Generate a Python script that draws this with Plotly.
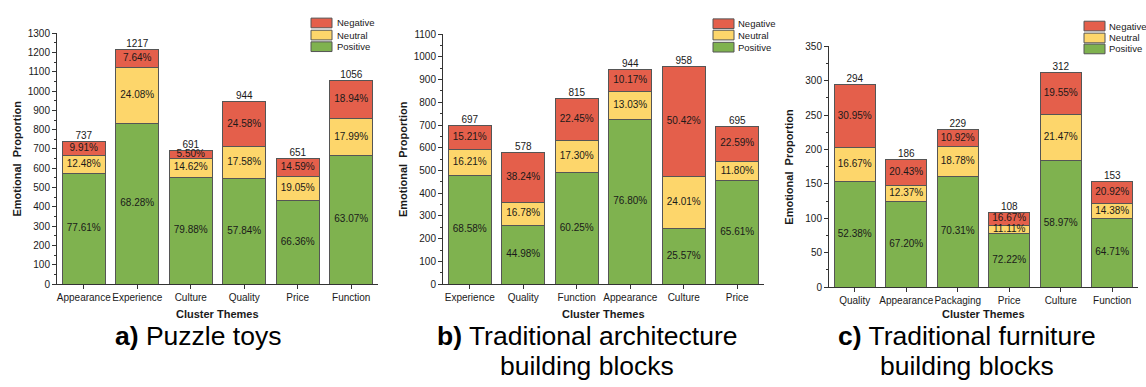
import plotly.graph_objects as go

# ---- data -------------------------------------------------------------
cats_a = ["Appearance", "Experience", "Culture", "Quality", "Price", "Function"]
pos_a = [572, 831, 552, 546, 432, 666]
neu_a = [92, 293, 101, 166, 124, 190]
neg_a = [73, 93, 38, 232, 95, 200]
tot_a = [737, 1217, 691, 944, 651, 1056]
pos_pct_a = ["77.61%", "68.28%", "79.88%", "57.84%", "66.36%", "63.07%"]
neu_pct_a = ["12.48%", "24.08%", "14.62%", "17.58%", "19.05%", "17.99%"]
neg_pct_a = ["9.91%", "7.64%", "5.50%", "24.58%", "14.59%", "18.94%"]

cats_b = ["Experience", "Quality", "Function", "Appearance", "Culture", "Price"]
pos_b = [478, 260, 491, 725, 245, 456]
neu_b = [113, 97, 141, 123, 230, 82]
neg_b = [106, 221, 183, 96, 483, 157]
tot_b = [697, 578, 815, 944, 958, 695]
pos_pct_b = ["68.58%", "44.98%", "60.25%", "76.80%", "25.57%", "65.61%"]
neu_pct_b = ["16.21%", "16.78%", "17.30%", "13.03%", "24.01%", "11.80%"]
neg_pct_b = ["15.21%", "38.24%", "22.45%", "10.17%", "50.42%", "22.59%"]

cats_c = ["Quality", "Appearance", "Packaging", "Price", "Culture", "Function"]
pos_c = [154, 125, 161, 78, 184, 99]
neu_c = [49, 23, 43, 12, 67, 22]
neg_c = [91, 38, 25, 18, 61, 32]
tot_c = [294, 186, 229, 108, 312, 153]
pos_pct_c = ["52.38%", "67.20%", "70.31%", "72.22%", "58.97%", "64.71%"]
neu_pct_c = ["16.67%", "12.37%", "18.78%", "11.11%", "21.47%", "14.38%"]
neg_pct_c = ["30.95%", "20.43%", "10.92%", "16.67%", "19.55%", "20.92%"]

captions = [("a)", "Puzzle toys", None),
            ("b)", "Traditional architecture", "building blocks"),
            ("c)", "Traditional furniture", "building blocks")]

# ---- style ------------------------------------------------------------
W, H = 1146, 387
FONT = "Liberation Sans, Arial, sans-serif"
RED, YEL, GRN = "#E45F4B", "#FDD66B", "#7FB24F"
EDGE = "#555555"
INK = "#1a1a1a"


def px(x):
    return x / W


def py(y):
    return 1 - y / H


panels = [
    dict(cats=cats_a, pos=pos_a, neu=neu_a, neg=neg_a, tot=tot_a,
         pp=pos_pct_a, np_=neu_pct_a, ng=neg_pct_a,
         xdom=(57, 378), y0=287, ytop=28, ymax=1300, dtick=100,
         legx=311, legy=[12.5, 25, 37], legtx=335),
    dict(cats=cats_b, pos=pos_b, neu=neu_b, neg=neg_b, tot=tot_b,
         pp=pos_pct_b, np_=neu_pct_b, ng=neg_pct_b,
         xdom=(443, 764), y0=287, ytop=29, ymax=1100, dtick=100,
         legx=713, legy=[13.3, 25, 37.5], legtx=736),
    dict(cats=cats_c, pos=pos_c, neu=neu_c, neg=neg_c, tot=tot_c,
         pp=pos_pct_c, np_=neu_pct_c, ng=neg_pct_c,
         xdom=(829, 1138), y0=290, ytop=41.7, ymax=350, dtick=50,
         legx=1084, legy=[15.7, 28, 39.3], legtx=1107),
]

fig = go.Figure()
shapes, annotations = [], []

for i, p in enumerate(panels):
    sfx = "" if i == 0 else str(i + 1)
    xa, ya = "x" + sfx, "y" + sfx
    bar_common = dict(xaxis=xa, yaxis=ya, x=p["cats"], width=0.8,
                      marker_line=dict(color=EDGE, width=1),
                      showlegend=False, textposition="none", hoverinfo="x+y")
    fig.add_trace(go.Bar(y=p["pos"], marker_color=GRN, name="Positive", **bar_common))
    fig.add_trace(go.Bar(y=p["neu"], marker_color=YEL, name="Neutral", **bar_common))
    fig.add_trace(go.Bar(y=p["neg"], marker_color=RED, name="Negative", **bar_common))

    # percentage labels centred in each stacked segment
    mid_pos = [a / 2 for a in p["pos"]]
    mid_neu = [a + b / 2 for a, b in zip(p["pos"], p["neu"])]
    mid_neg = [a + b + c / 2 for a, b, c in zip(p["pos"], p["neu"], p["neg"])]
    for ys, txt in ((mid_pos, p["pp"]), (mid_neu, p["np_"]), (mid_neg, p["ng"])):
        fig.add_trace(go.Scatter(xaxis=xa, yaxis=ya, x=p["cats"], y=ys, text=txt,
                                 mode="text", textposition="middle center",
                                 textfont=dict(family=FONT, size=10, color=INK),
                                 showlegend=False, hoverinfo="skip"))
    # totals above each bar
    fig.add_trace(go.Scatter(xaxis=xa, yaxis=ya, x=p["cats"], y=p["tot"],
                             text=[str(t) for t in p["tot"]],
                             mode="text", textposition="top center",
                             textfont=dict(family=FONT, size=10, color=INK),
                             showlegend=False, hoverinfo="skip"))

    x0, x1 = p["xdom"]
    fig.layout["xaxis" + sfx] = dict(
        domain=[px(x0), px(x1)], anchor=ya, type="category",
        range=[-0.5, 5.5], showline=True, linecolor="#333333", linewidth=1,
        ticks="outside", ticklen=4, tickcolor="#333333", showgrid=False,
        zeroline=False, tickangle=0,
        tickfont=dict(family=FONT, size=10, color=INK))
    fig.layout["yaxis" + sfx] = dict(
        domain=[py(p["y0"]), py(p["ytop"])], anchor=xa,
        range=[0, p["ymax"]], dtick=p["dtick"], showline=True,
        linecolor="#333333", linewidth=1, ticks="outside", ticklen=4,
        tickcolor="#333333", showgrid=False, zeroline=False,
        minor=dict(ticks="outside", ticklen=2, dtick=p["dtick"] / 2,
                   tickcolor="#333333", showgrid=False),
        tickfont=dict(family=FONT, size=10, color=INK))

    # axis titles
    xc = (x0 + x1) / 2
    annotations.append(dict(xref="paper", yref="paper", x=px(xc), y=py(318),
                            text="<b>Cluster Themes</b>", showarrow=False,
                            font=dict(family=FONT, size=11, color=INK),
                            xanchor="center", yanchor="middle"))
    annotations.append(dict(xref="paper", yref="paper", x=px(x0 - 40),
                            y=py((p["y0"] + p["ytop"]) / 2),
                            text="<b>Emotional  Proportion</b>", textangle=-90,
                            showarrow=False,
                            font=dict(family=FONT, size=11, color=INK),
                            xanchor="center", yanchor="middle"))

    # legend swatches
    for (yy, col, lab) in zip(p["legy"], (RED, YEL, GRN),
                              ("Negative", "Neutral", "Positive")):
        shapes.append(dict(type="rect", xref="paper", yref="paper",
                           x0=px(p["legx"]), x1=px(p["legx"] + 21),
                           y0=py(yy + 10), y1=py(yy),
                           fillcolor=col, line=dict(color=EDGE, width=1)))
        annotations.append(dict(xref="paper", yref="paper", x=px(p["legtx"]),
                                y=py(yy + 5), text=lab, showarrow=False,
                                font=dict(family=FONT, size=9.5, color=INK),
                                xanchor="left", yanchor="middle"))

# panel captions
cap_centers = [198, 587, 967]
for (tag, l1, l2), cx in zip(captions, cap_centers):
    annotations.append(dict(xref="paper", yref="paper", x=px(cx), y=py(341),
                            text=f"<b>{tag}</b> {l1}", showarrow=False,
                            font=dict(family=FONT, size=26.5, color="#000000"),
                            xanchor="center", yanchor="middle"))
    if l2:
        annotations.append(dict(xref="paper", yref="paper", x=px(cx), y=py(372),
                                text=l2, showarrow=False,
                                font=dict(family=FONT, size=26.5, color="#000000"),
                                xanchor="center", yanchor="middle"))

fig.update_layout(
    width=W, height=H, margin=dict(l=0, r=0, t=0, b=0),
    barmode="stack", bargap=0.2,
    plot_bgcolor="white", paper_bgcolor="white",
    font=dict(family=FONT, color=INK),
    shapes=shapes, annotations=annotations, showlegend=False,
)

fig.write_html("out.html")
